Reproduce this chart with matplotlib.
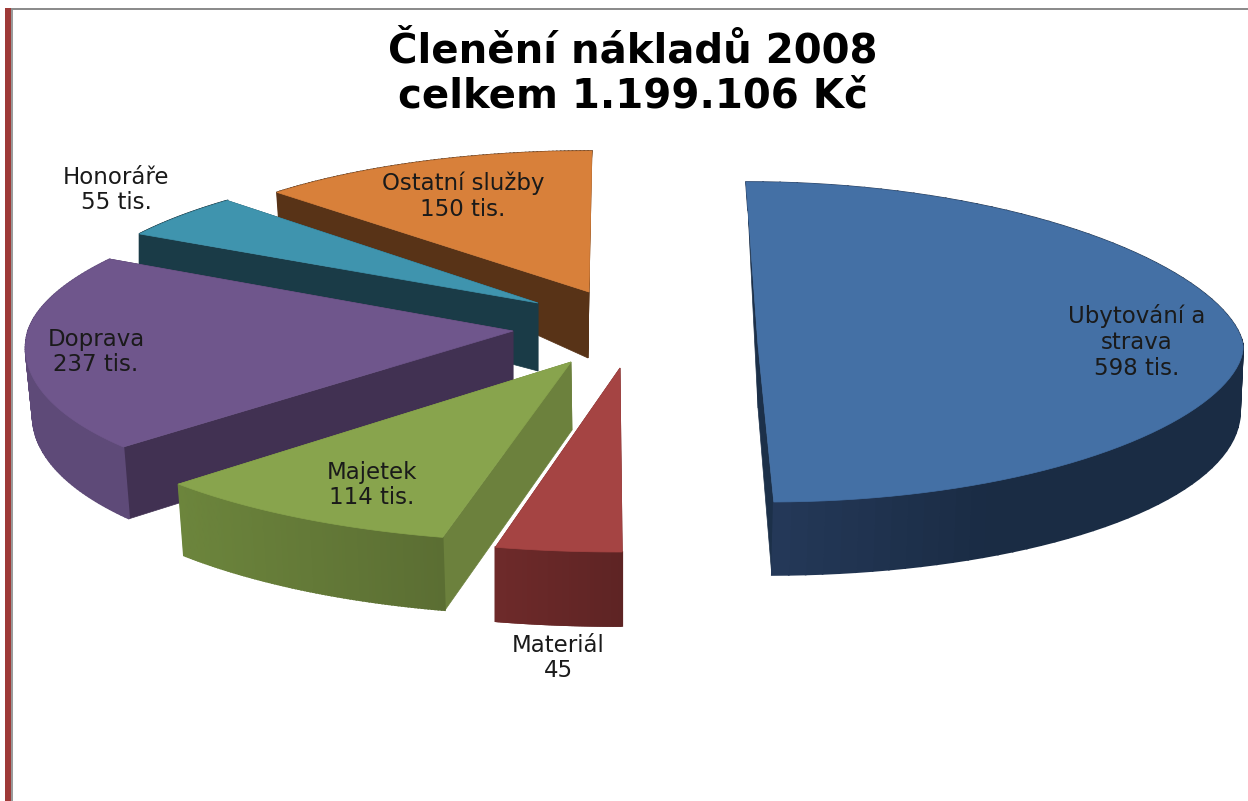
import numpy as np
import matplotlib
matplotlib.use("Agg")
import matplotlib.pyplot as plt
from matplotlib.colors import to_rgb

# data
title = "Členění nákladů 2008\ncelkem 1.199.106 Kč"
categories = ["Ubytování a\nstrava", "Materiál", "Majetek", "Doprava", "Honoráře", "Ostatní služby"]
values = [598, 45, 114, 237, 55, 150]
value_labels = ["598 tis.", "45", "114 tis.", "237 tis.", "55 tis.", "150 tis."]

# layout of each exploded slice, in pixels: apex, x radius, shear, y radius back/front, arc sharpness
top_geo = [(758, 345, 485, -12, 163, 157, 1.15), (620, 368, 543, 2, 184, 184, 1), (571, 362, 525, 10, 180, 180, 1),
           (513, 331, 485, 49, 151, 171, 1), (538, 303, 470, 31, 145, 145, 1), (589, 292, 444, 3, 141, 141, 1)]
bot_geo = [(758, 408, 482, -10, 198, 167, 1), (620, 441, 543, 2, 185, 185, 1), (572, 430, 519, 10, 185, 185, 1),
           (513, 398, 478, 48, 200, 178, 1), (538, 371, 470, 31, 222, 222, 1), (588, 358, 440, 3, 198, 198, 1)]
top_colors = ["#4470a5", "#a54443", "#88a44d", "#6f568c", "#3f94ae", "#d8803a"]
cut_colors = ["#1c3049", "#6e2a2a", "#6c813d", "#413152", "#1a3b47", "#583317"]
wall_from = ["#263b5c", "#6e2a2a", "#6c853c", "#5e4a78", "#1a3b47", "#583317"]
wall_to = ["#1a2c44", "#5e2424", "#5b6e33", "#5e4a78", "#1a3b47", "#583317"]
label_pos = [(1137, 342), (558, 658), (372, 485), (96, 352), (116, 190), (463, 196)]


def ring(geo, t):
    ax0, ay0, rx, sh, ry_back, ry_front, p = geo
    s = np.sin(t)
    ry = np.where(s > 0, ry_back, ry_front)
    return ax0 + rx * np.cos(t) + sh * s, ay0 - ry * np.sign(s) * np.abs(s) ** p


fig = plt.figure(figsize=(12.48, 8.01), dpi=100)
ax = fig.add_axes([0, 0, 1, 1])
ax.set_xlim(0, 1248)
ax.set_ylim(801, 0)
ax.axis("off")

# slide frame
ax.fill_between([5, 11], 8, 801, color="#9e3a38", lw=0)
ax.fill_between([11, 13], 8, 801, color="#9a9a9a", lw=0)
ax.fill_between([11, 1248], 8, 10, color="#8c8c8c", lw=0)

shares = np.array(values) / sum(values) * 2 * np.pi
ends = np.pi / 2 - np.cumsum(shares)
starts = ends + shares

# back slices first
for i in [5, 4, 3, 2, 1, 0]:
    t = np.linspace(starts[i], ends[i], 90)
    xt, yt = ring(top_geo[i], t)
    xb, yb = ring(bot_geo[i], t)
    ax0, ay0 = top_geo[i][:2]
    bx0, by0 = bot_geo[i][:2]
    # cut faces
    for k in [0, -1]:
        ax.fill([ax0, bx0, xb[k], xt[k]], [ay0, by0, yb[k], yt[k]], color=cut_colors[i], lw=0.5)
    # outer wall, shaded along x
    c0, c1 = np.array(to_rgb(wall_from[i])), np.array(to_rgb(wall_to[i]))
    xmin, xmax = xt.min(), xt.max()
    for j in range(len(t) - 1):
        f = (xt[j] - xmin) / (xmax - xmin + 1e-6)
        f = min(f * 2 if i == 0 else f, 1)
        ax.fill([xt[j], xt[j + 1], xb[j + 1], xb[j]], [yt[j], yt[j + 1], yb[j + 1], yb[j]],
                color=c0 + (c1 - c0) * f, lw=1.2)
    ax.fill(np.r_[ax0, xt], np.r_[ay0, yt], color=top_colors[i], lw=0.5)

for i in range(len(categories)):
    ax.text(label_pos[i][0], label_pos[i][1], categories[i] + "\n" + value_labels[i], ha="center", va="center",
            fontsize=16.5, color="#1a1a1a", linespacing=1.14)

ax.text(633, 74, title, ha="center", va="center", fontsize=29, fontweight="bold", color="black", linespacing=1.13)

fig.savefig("out.png", dpi=100)
